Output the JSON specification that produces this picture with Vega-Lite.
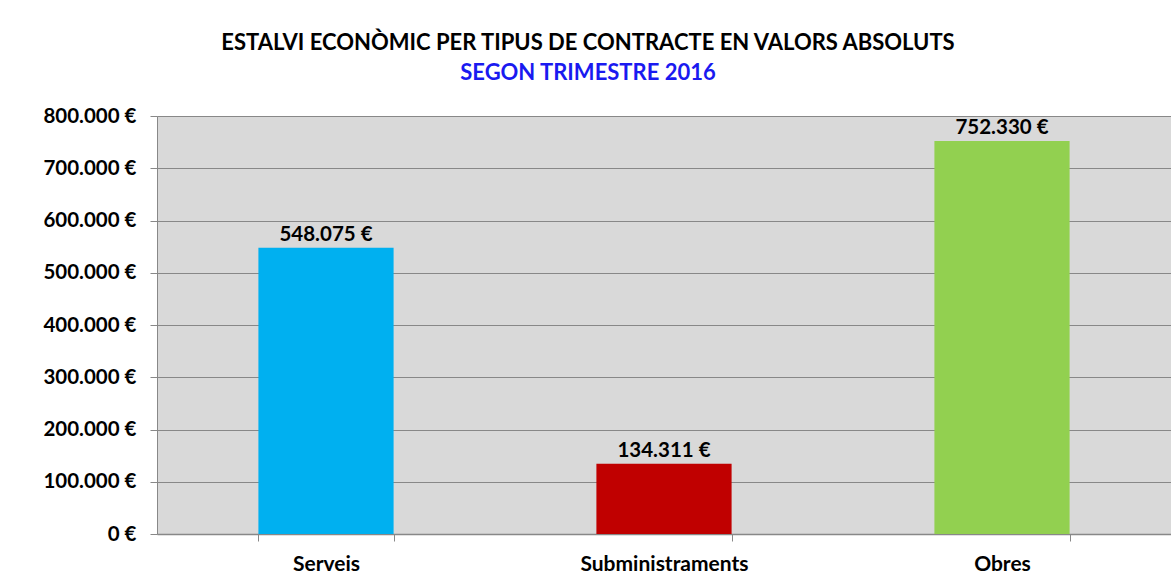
{
  "$schema": "https://vega.github.io/schema/vega-lite/v6.json",
  "autosize": {"type": "none"},
  "padding": {"left": 157, "top": 116, "right": 0, "bottom": 51},
  "width": 1014,
  "height": 418,
  "background": "white",
  "config": {
    "locale": {"number": {"decimal": ",", "thousands": ".", "grouping": [3], "currency": ["", " €"]}},
    "view": {"fill": "#D9D9D9", "stroke": null},
    "font": "Lato"
  },
  "title": {
    "text": "ESTALVI ECONÒMIC PER TIPUS DE CONTRACTE EN VALORS ABSOLUTS",
    "subtitle": "SEGON TRIMESTRE 2016",
    "anchor": "middle",
    "frame": "group",
    "dx": -76,
    "offset": 21,
    "font": "Lato",
    "fontSize": 22,
    "fontWeight": "bold",
    "color": "#000000",
    "subtitleFont": "Lato",
    "subtitleFontSize": 22,
    "subtitleFontWeight": "bold",
    "subtitleColor": "#1A1AF0",
    "subtitlePadding": 8
  },
  "data": {
    "values": [
      {"tipus": "Serveis", "estalvi": 548075},
      {"tipus": "Subministraments", "estalvi": 134311},
      {"tipus": "Obres", "estalvi": 752330}
    ]
  },
  "encoding": {
    "x": {
      "field": "tipus",
      "type": "nominal",
      "sort": null,
      "scale": {"paddingInner": 0.6, "paddingOuter": 0.3},
      "axis": {
        "title": null,
        "labelAngle": 0,
        "labelFont": "Lato",
        "labelFontSize": 21,
        "labelFontWeight": "bold",
        "labelColor": "#000000",
        "labelPadding": 12,
        "tickBand": "extent",
        "tickSize": 7,
        "tickColor": "#888888",
        "domainColor": "#888888",
        "domainWidth": 1.5
      }
    },
    "y": {
      "field": "estalvi",
      "type": "quantitative",
      "scale": {"domain": [0, 800000], "nice": false},
      "axis": {
        "title": null,
        "values": [0, 100000, 200000, 300000, 400000, 500000, 600000, 700000, 800000],
        "format": "$,.0f",
        "labelFont": "Lato",
        "labelFontSize": 20.5,
        "labelFontWeight": "bold",
        "labelColor": "#000000",
        "labelPadding": 14,
        "tickSize": 7,
        "tickColor": "#888888",
        "domainColor": "#888888",
        "gridColor": "#888888",
        "gridWidth": 1.2
      }
    }
  },
  "layer": [
    {
      "mark": {"type": "bar"},
      "encoding": {
        "color": {
          "field": "tipus",
          "type": "nominal",
          "scale": {"domain": ["Serveis", "Subministraments", "Obres"], "range": ["#00B0F0", "#C00000", "#92D050"]},
          "legend": null
        }
      }
    },
    {
      "mark": {"type": "text", "baseline": "bottom", "dy": -3, "font": "Lato", "fontSize": 20.5, "fontWeight": "bold", "color": "#000000"},
      "encoding": {
        "text": {"field": "estalvi", "type": "quantitative", "format": "$,.0f"}
      }
    }
  ]
}
